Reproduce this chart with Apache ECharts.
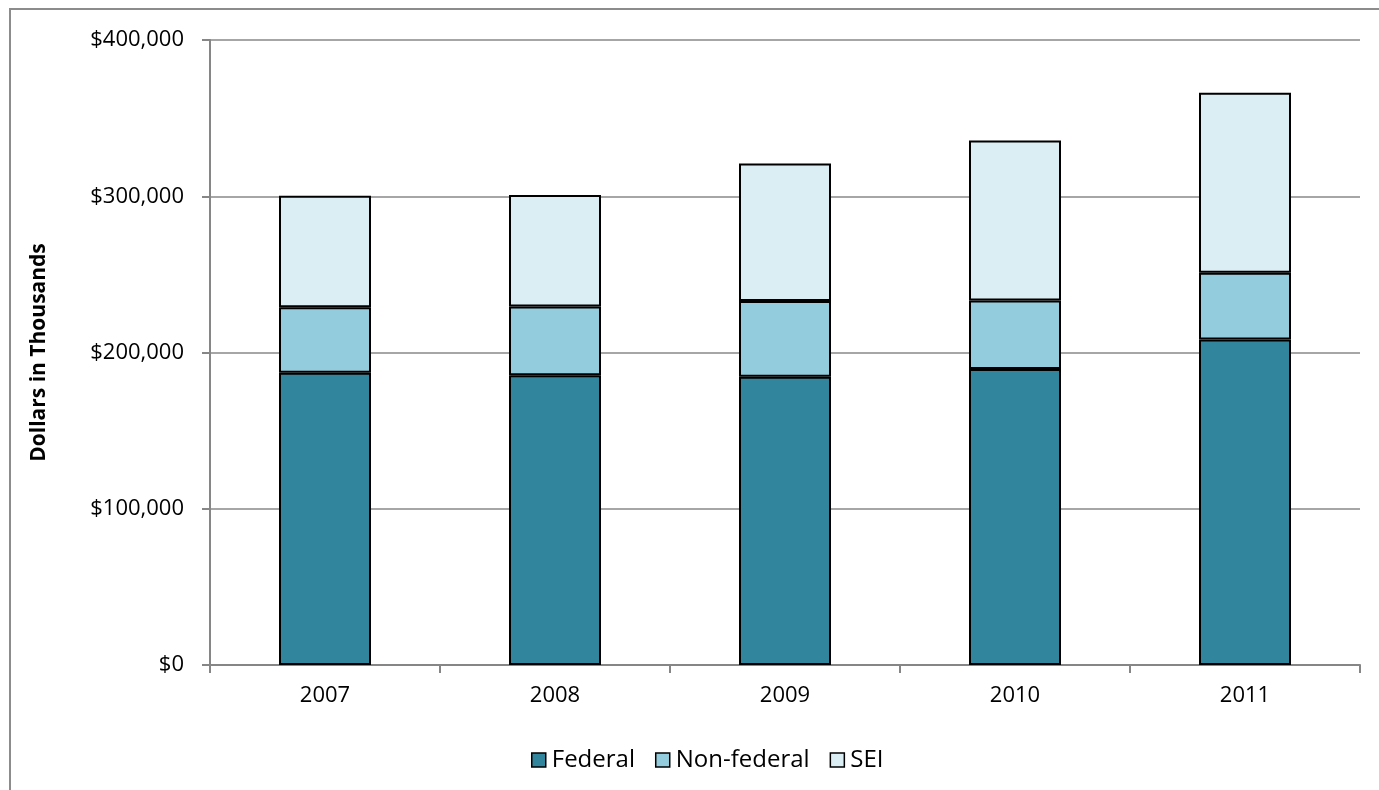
<!DOCTYPE html>
<html>
<head>
<meta charset="utf-8">
<script src="https://cdn.jsdelivr.net/npm/echarts@6/dist/echarts.min.js"></script>
<style>
  html, body { margin: 0; padding: 0; background: #fff; }
  #main { width: 1379px; height: 790px; }
</style>
</head>
<body>
<div id="main"></div>
<script>
// years on the x axis
var years = ['2007', '2008', '2009', '2010', '2011'];
// values in thousands of dollars
var federal    = [187000, 185500, 184500, 189500, 208300];
var nonFederal = [42000, 44000, 48400, 43800, 42800];
var sei        = [71300, 71300, 88100, 102400, 115100];
var yTicks = [0, 100000, 200000, 300000, 400000];

var font = '"Open Sans", "Noto Sans", sans-serif';

function money(v){
	return '$' + v.toString().replace(/\B(?=(\d{3})+(?!\d))/g, ',');
}

var myChart = echarts.init(document.getElementById('main'), null, {renderer: 'canvas'});

function barSeries(name, data, color){
	return {
		name: name,
		type: 'bar',
		stack: 'total',
		barWidth: '40%',
		data: data,
		itemStyle: {color: color, borderColor: '#000', borderWidth: 2}
	};
}

var option = {
	animation: false,
	backgroundColor: '#fff',
	textStyle: {fontFamily: font},
	grid: {left: 210, right: 19, top: 40, bottom: 125},
	graphic: [{
		// outer chart frame
		type: 'rect',
		shape: {x: 10, y: 9, width: 1420, height: 820},
		style: {fill: 'none', stroke: '#8c8c8c', lineWidth: 2},
		silent: true
	}],
	legend: {
		left: 526,
		top: 743,
		icon: 'rect',
		itemWidth: 14,
		itemHeight: 14,
		itemGap: 20,
		itemStyle: {borderColor: '#000', borderWidth: 1.5},
		data: ['Federal', 'Non-federal', 'SEI'],
		textStyle: {fontFamily: font, fontSize: 24, color: '#000', padding: [0, 0, 0, 1]}
	},
	xAxis: {
		type: 'category',
		data: years,
		axisLine: {lineStyle: {color: '#868686', width: 2}},
		axisTick: {show: true, length: 8, lineStyle: {color: '#868686', width: 2}},
		axisLabel: {color: '#000', fontSize: 22, fontFamily: font, margin: 20}
	},
	yAxis: {
		type: 'value',
		min: yTicks[0],
		max: yTicks[yTicks.length - 1],
		interval: 100000,
		name: 'Dollars in Thousands',
		nameLocation: 'middle',
		nameGap: 160,
		nameTextStyle: {color: '#000', fontSize: 21, fontWeight: 'bold', fontFamily: font},
		axisLine: {show: true, lineStyle: {color: '#868686', width: 2}},
		axisTick: {show: true, length: 8, lineStyle: {color: '#868686', width: 2}},
		axisLabel: {color: '#000', fontSize: 22, fontFamily: font, margin: 26, formatter: money},
		splitLine: {lineStyle: {color: '#a6a6a6', width: 2}}
	},
	series: [
		barSeries('Federal', federal, '#31859c'),
		barSeries('Non-federal', nonFederal, '#93cddd'),
		barSeries('SEI', sei, '#dbeef4')
	]
};

myChart.setOption(option);
</script>
</body>
</html>
